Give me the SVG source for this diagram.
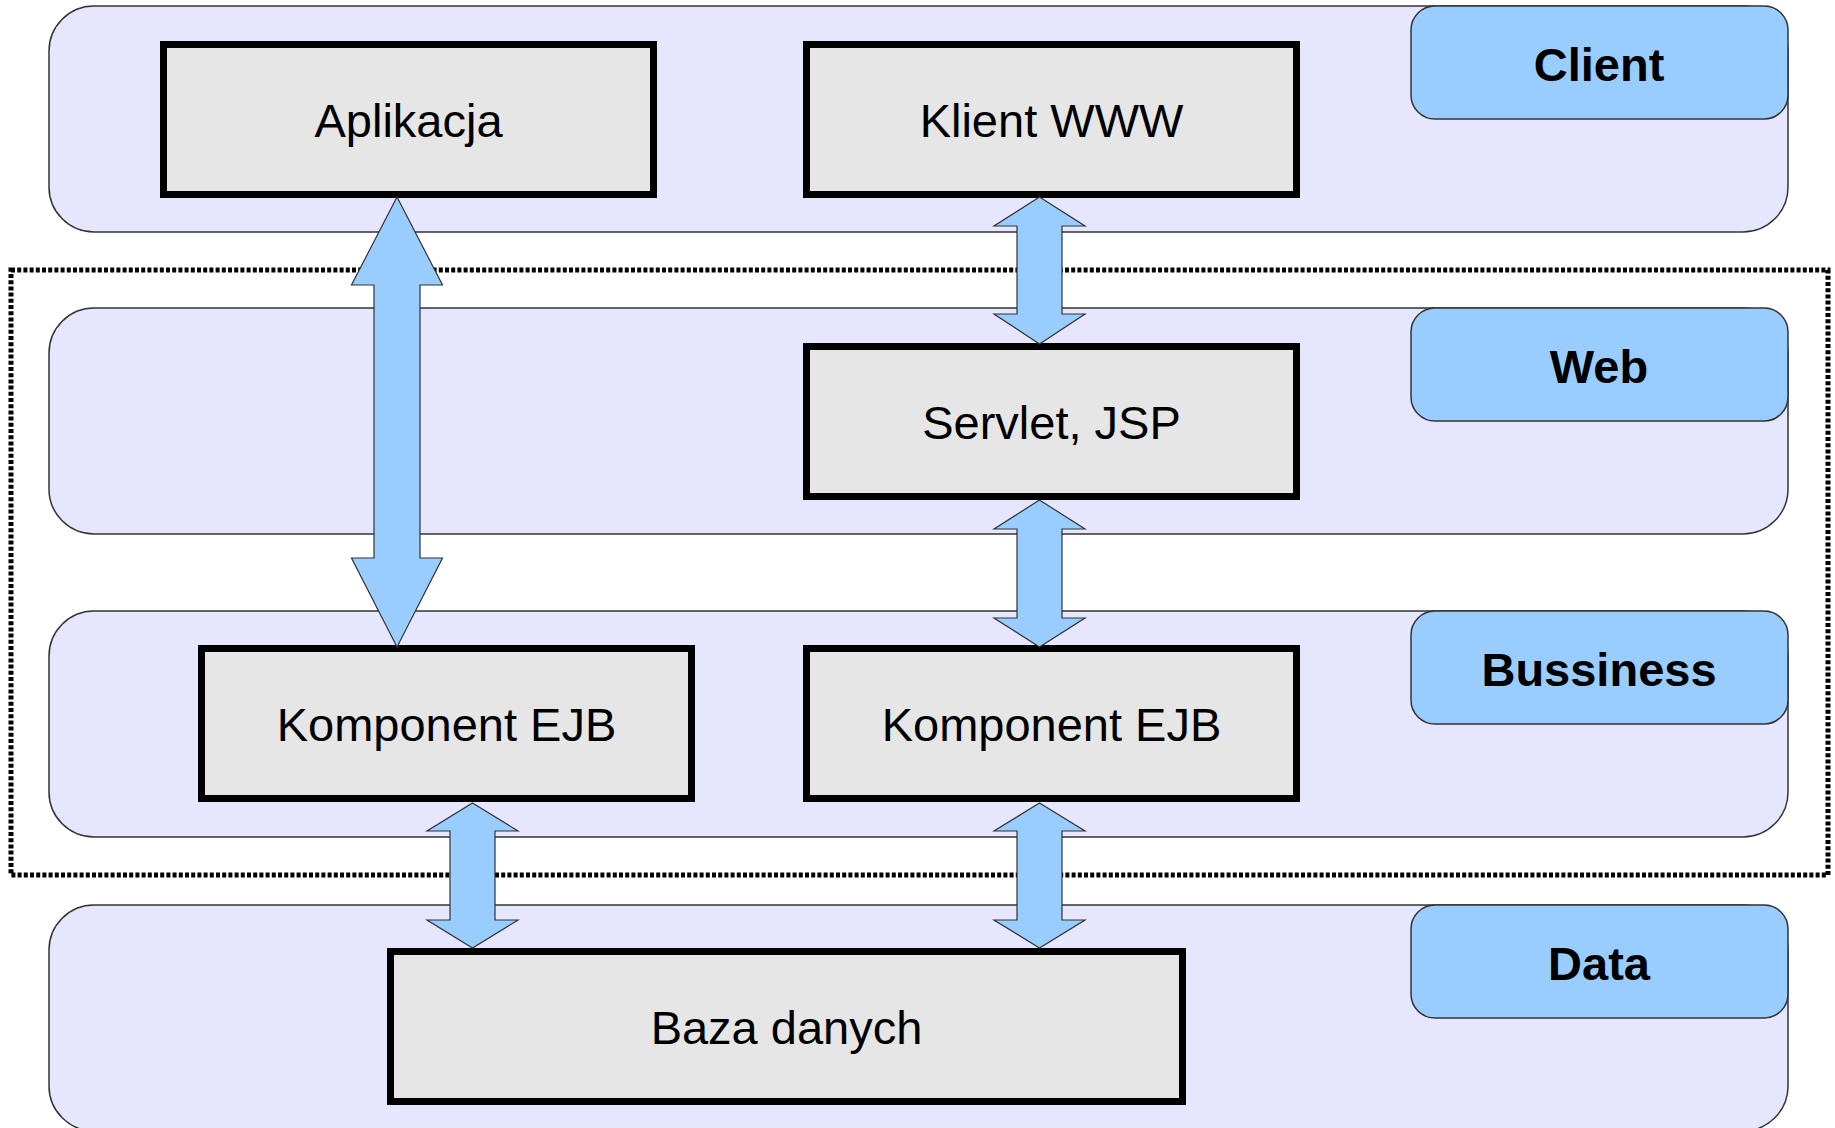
<svg xmlns="http://www.w3.org/2000/svg" width="1835" height="1128" viewBox="0 0 1835 1128">
<style>
.layer{fill:#E6E6FF;stroke:#333;stroke-width:1.5}
.lbl{fill:#99CCFF;stroke:#333;stroke-width:1.5}
.lbltxt{font-family:"Liberation Sans",Arial,sans-serif;font-weight:bold;font-size:47px;fill:#000;text-anchor:middle}
.box{fill:#E6E6E6;stroke:#000;stroke-width:7}
.txt{font-family:"Liberation Sans",Arial,sans-serif;font-size:47px;fill:#000;text-anchor:middle}
.arr{fill:#99CCFF;stroke:#333;stroke-width:1.2;stroke-linejoin:miter}
.dot{fill:none;stroke:#000;stroke-width:5;stroke-dasharray:4 2.2}
</style>
<rect width="1835" height="1128" fill="#fff"/>
<g id="layers">
<rect id="layer-client" class="layer" x="49" y="6" width="1739" height="226" rx="45" ry="45"/>
<rect id="layer-web" class="layer" x="49" y="308" width="1739" height="226" rx="45" ry="45"/>
<rect id="layer-business" class="layer" x="49" y="611" width="1739" height="226" rx="45" ry="45"/>
<rect id="layer-data" class="layer" x="49" y="905" width="1739" height="226" rx="45" ry="45"/>
</g>
<g id="labels">
<g id="label-client"><rect class="lbl" x="1411" y="6" width="377" height="113" rx="24" ry="24"/><text class="lbltxt" x="1599" y="81">Client</text></g>
<g id="label-web"><rect class="lbl" x="1411" y="308" width="377" height="113" rx="24" ry="24"/><text class="lbltxt" x="1599" y="383">Web</text></g>
<g id="label-business"><rect class="lbl" x="1411" y="611" width="377" height="113" rx="24" ry="24"/><text class="lbltxt" x="1599" y="686">Bussiness</text></g>
<g id="label-data"><rect class="lbl" x="1411" y="905" width="377" height="113" rx="24" ry="24"/><text class="lbltxt" x="1599" y="980">Data</text></g>
</g>
<rect id="boundary" class="dot" x="11" y="270" width="1817" height="605"/>
<g id="aplikacja"><rect class="box" x="163.5" y="44.5" width="490" height="150"/><text class="txt" x="408.5" y="137">Aplikacja</text></g>
<g id="klient-www"><rect class="box" x="806.5" y="44.5" width="490" height="150"/><text class="txt" x="1051.5" y="137">Klient WWW</text></g>
<g id="servlet-jsp"><rect class="box" x="806.5" y="346.5" width="490" height="150"/><text class="txt" x="1051.5" y="439">Servlet, JSP</text></g>
<g id="ejb-left"><rect class="box" x="201.5" y="648.5" width="490" height="150"/><text class="txt" x="446.5" y="741">Komponent EJB</text></g>
<g id="ejb-right"><rect class="box" x="806.5" y="648.5" width="490" height="150"/><text class="txt" x="1051.5" y="741">Komponent EJB</text></g>
<g id="baza-danych"><rect class="box" x="390.5" y="951.5" width="792" height="150"/><text class="txt" x="786.5" y="1044">Baza danych</text></g>
<g id="connectors">
<path class="arr" d="M397,197 L442.5,285 L420,285 L420,558 L442.5,558 L397,647 L351.5,558 L374,558 L374,285 L351.5,285 Z"/>
<path class="arr" d="M1039.5,197 L1085,226 L1062,226 L1062,314 L1085,314 L1039.5,344 L994,314 L1017,314 L1017,226 L994,226 Z"/>
<path class="arr" d="M1039.5,500 L1085,529 L1062,529 L1062,618 L1085,618 L1039.5,647 L994,618 L1017,618 L1017,529 L994,529 Z"/>
<path class="arr" d="M472.5,803 L518,831 L495,831 L495,920 L518,920 L472.5,948 L427,920 L450,920 L450,831 L427,831 Z"/>
<path class="arr" d="M1039.5,803 L1085,831 L1062,831 L1062,920 L1085,920 L1039.5,948 L994,920 L1017,920 L1017,831 L994,831 Z"/>
</g>
</svg>
